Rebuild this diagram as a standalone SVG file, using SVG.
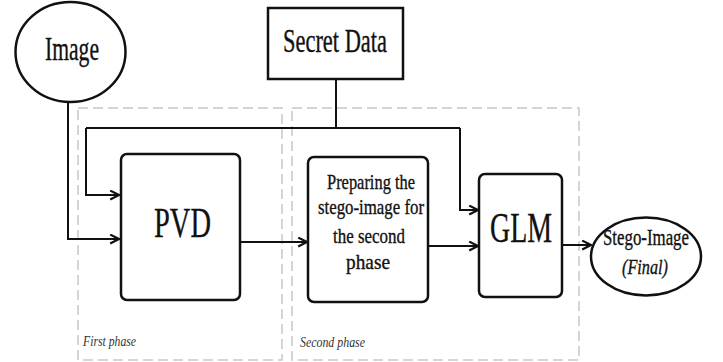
<svg xmlns="http://www.w3.org/2000/svg" width="723" height="362" viewBox="0 0 723 362">
  <style>
    .node { fill: #fff; stroke: #111; stroke-width: 2.5; }
    .phase { fill: none; stroke: #c8c8c8; stroke-width: 1.5; stroke-dasharray: 10 5; }
    .wire { fill: none; stroke: #111; stroke-width: 2; }
    text { font-family: 'Liberation Serif', 'Times New Roman', serif; }
    .t { fill: #111; text-anchor: middle; stroke: #111; stroke-width: 0.35; }
    .it { font-style: italic; }
    .lbl { fill: #333; font-style: italic; font-size: 15px; }
  </style>
  <defs>
    <marker id="arrow" viewBox="0 0 10 10" refX="9" refY="5" markerWidth="11" markerHeight="11" markerUnits="userSpaceOnUse" orient="auto">
      <path d="M1,1 L9,5 L1,9" fill="none" stroke="#111" stroke-width="2"/>
    </marker>
  </defs>

  <rect width="723" height="362" fill="#fff"/>

  <!-- phase frames -->
  <g id="phase-1">
    <rect class="phase" x="78" y="108" width="204" height="252"/>
    <text class="lbl" x="83" y="346" textLength="53" lengthAdjust="spacingAndGlyphs">First phase</text>
  </g>
  <g id="phase-2">
    <rect class="phase" x="292" y="108" width="287" height="252"/>
    <text class="lbl" x="300" y="347" textLength="65" lengthAdjust="spacingAndGlyphs">Second phase</text>
  </g>

  <!-- connectors -->
  <g id="connectors">
    <path class="wire" d="M68,102 V239 H119" marker-end="url(#arrow)"/>
    <path class="wire" d="M336,79 V128"/>
    <path class="wire" d="M86,128 H460"/>
    <path class="wire" d="M86,128 V195 H119" marker-end="url(#arrow)"/>
    <path class="wire" d="M460,128 V210 H478" marker-end="url(#arrow)"/>
    <path class="wire" d="M240,242 H307" marker-end="url(#arrow)"/>
    <path class="wire" d="M428,246 H478" marker-end="url(#arrow)"/>
    <path class="wire" d="M562,245 H591" marker-end="url(#arrow)"/>
  </g>

  <!-- nodes -->
  <g id="image">
    <ellipse class="node" cx="70.5" cy="52" rx="55" ry="50"/>
    <text class="t" x="72" y="60" font-size="33" textLength="54" lengthAdjust="spacingAndGlyphs">Image</text>
  </g>
  <g id="secret-data">
    <rect class="node" x="268" y="8" width="135" height="71"/>
    <text class="t" x="335" y="52" font-size="33" textLength="104" lengthAdjust="spacingAndGlyphs">Secret Data</text>
  </g>
  <g id="pvd">
    <rect class="node" x="121" y="154" width="119" height="146" rx="6"/>
    <text class="t" x="182.5" y="237" font-size="43" textLength="57" lengthAdjust="spacingAndGlyphs">PVD</text>
  </g>
  <g id="prepare">
    <rect class="node" x="308" y="157" width="120" height="145" rx="6"/>
    <text class="t" x="371" y="189" font-size="22" textLength="88" lengthAdjust="spacingAndGlyphs">Preparing the</text>
    <text class="t" x="371" y="214" font-size="22" textLength="106" lengthAdjust="spacingAndGlyphs">stego-image for</text>
    <text class="t" x="369" y="243" font-size="22" textLength="72" lengthAdjust="spacingAndGlyphs">the second</text>
    <text class="t" x="368" y="269" font-size="22" textLength="44" lengthAdjust="spacingAndGlyphs">phase</text>
  </g>
  <g id="glm">
    <rect class="node" x="479" y="174" width="83" height="123" rx="6"/>
    <text class="t" x="521" y="242" font-size="42" textLength="62" lengthAdjust="spacingAndGlyphs">GLM</text>
  </g>
  <g id="stego-image">
    <ellipse class="node" cx="646" cy="256.5" rx="55" ry="39"/>
    <text class="t" x="646" y="245" font-size="23" textLength="86" lengthAdjust="spacingAndGlyphs">Stego-Image</text>
    <text class="t it" x="645" y="274" font-size="22" textLength="46" lengthAdjust="spacingAndGlyphs">(Final)</text>
  </g>
</svg>
